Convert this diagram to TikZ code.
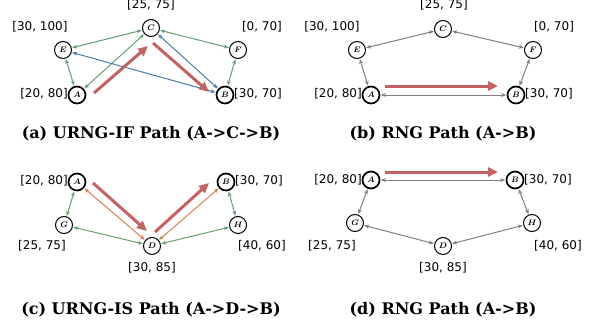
\documentclass[tikz,border=0pt]{standalone}
\usepackage{fontspec}
\usepackage{bm}
\setmainfont{DejaVu Sans}
\newfontfamily\capfont{DejaVu Serif}
\usetikzlibrary{arrows.meta}
\definecolor{cgreen}{HTML}{6A9F72}
\definecolor{cblue}{HTML}{4C7BAF}
\definecolor{corange}{HTML}{D9804F}
\definecolor{cred}{HTML}{C46262}
\definecolor{cgray}{HTML}{7F7F7F}
\tikzset{
  vtx/.style={circle,draw=black,fill=white,line width=1pt,minimum size=17pt,inner sep=0pt,font=\fontsize{8}{9}\selectfont},
  endv/.style={vtx,line width=1.7pt},
  lbl/.style={font=\fontsize{12}{14}\selectfont,inner sep=0pt},
  captxt/.style={font=\capfont\bfseries\fontsize{16}{18}\selectfont,inner sep=0pt},
  biarrow/.style={{Stealth[length=5pt,width=4pt]}-{Stealth[length=5pt,width=4pt]},line width=1pt,shorten <=0.5pt,shorten >=0.5pt},
  gline/.style={biarrow,draw=cgreen},
  bline/.style={biarrow,draw=cblue},
  oline/.style={biarrow,draw=corange},
  kline/.style={biarrow,draw=cgray},
  redpath/.style={-{Triangle[length=10pt,width=9pt]},line width=3pt,draw=cred}
}
\begin{document}
\begin{tikzpicture}[x=1pt,y=-1pt]
\useasboundingbox (0,0) rectangle (590,327);
% ---------- (a) ----------
\node[vtx]  (aC) at (151,28) {$\bm{C}$};
\node[vtx]  (aE) at (63,50)  {$\bm{E}$};
\node[vtx]  (aF) at (238,50) {$\bm{F}$};
\node[endv] (aA) at (77,95)  {$\bm{A}$};
\node[endv] (aB) at (225,95) {$\bm{B}$};
\node[lbl] (laC) at (151,5)  {[25, 75]};
\node[lbl] (laE) at (40,27)  {[30, 100]};
\node[lbl] (laF) at (262,27) {[0, 70]};
\node[lbl,anchor=east] (laA) at (68,94) {[20, 80]};
\node[lbl,anchor=west] (laB) at (234,94) {[30, 70]};
\draw[gline] (aC) -- (aE);
\draw[gline] (aC) -- (aF);
\draw[gline] (aE) -- (aA);
\draw[gline] (aF) -- (aB);
\draw[gline] (aC) -- (aA);
\draw[bline] (aE) -- (aB);
\draw[bline] (aC) -- (aB);
\coordinate (ar1s) at (94,93); \coordinate (ar1e) at (148,46);
\coordinate (ar2s) at (153,43); \coordinate (ar2e) at (209,92);
\draw[redpath] (ar1s) -- (ar1e);
\draw[redpath] (ar2s) -- (ar2e);
\node[captxt] (capa) at (151,134) {(a) URNG-IF Path (A->C->B)};
% ---------- (b) ----------
\node[vtx]  (bC) at (443,29) {$\bm{C}$};
\node[vtx]  (bE) at (357,50) {$\bm{E}$};
\node[vtx]  (bF) at (533,50) {$\bm{F}$};
\node[endv] (bA) at (371,95) {$\bm{A}$};
\node[endv] (bB) at (516,95) {$\bm{B}$};
\node[lbl] (lbC) at (444,5)  {[25, 75]};
\node[lbl] (lbE) at (332,27) {[30, 100]};
\node[lbl] (lbF) at (554,27) {[0, 70]};
\node[lbl,anchor=east] (lbA) at (362,94) {[20, 80]};
\node[lbl,anchor=west] (lbB) at (525,94) {[30, 70]};
\draw[kline] (bC) -- (bE);
\draw[kline] (bC) -- (bF);
\draw[kline] (bE) -- (bA);
\draw[kline] (bF) -- (bB);
\draw[kline] (bA) -- (bB);
\coordinate (br1s) at (385,86); \coordinate (br1e) at (498,86);
\draw[redpath] (br1s) -- (br1e);
\node[captxt] (capb) at (443,134) {(b) RNG Path (A->B)};
% ---------- (c) ----------
\node[endv] (cA) at (77,182)  {$\bm{A}$};
\node[endv] (cB) at (226,182) {$\bm{B}$};
\node[vtx]  (cG) at (64,225)  {$\bm{G}$};
\node[vtx]  (cH) at (238,225) {$\bm{H}$};
\node[vtx]  (cD) at (152,246) {$\bm{D}$};
\node[lbl,anchor=east] (lcA) at (68,181) {[20, 80]};
\node[lbl,anchor=west] (lcB) at (235,181) {[30, 70]};
\node[lbl] (lcG) at (42,246)  {[25, 75]};
\node[lbl] (lcH) at (262,246) {[40, 60]};
\node[lbl] (lcD) at (152,268) {[30, 85]};
\draw[gline] (cA) -- (cG);
\draw[gline] (cG) -- (cD);
\draw[gline] (cD) -- (cH);
\draw[gline] (cH) -- (cB);
\draw[oline] (cA) -- (cD);
\draw[oline] (cD) -- (cB);
\coordinate (cr1s) at (93,183); \coordinate (cr1e) at (147,231);
\coordinate (cr2s) at (155,232); \coordinate (cr2e) at (209,183);
\draw[redpath] (cr1s) -- (cr1e);
\draw[redpath] (cr2s) -- (cr2e);
\node[captxt] (capc) at (151,310) {(c) URNG-IS Path (A->D->B)};
% ---------- (d) ----------
\node[endv] (dA) at (371,180) {$\bm{A}$};
\node[endv] (dB) at (515,180) {$\bm{B}$};
\node[vtx]  (dG) at (355,223) {$\bm{G}$};
\node[vtx]  (dH) at (532,223) {$\bm{H}$};
\node[vtx]  (dD) at (443,246) {$\bm{D}$};
\node[lbl,anchor=east] (ldA) at (362,180) {[20, 80]};
\node[lbl,anchor=west] (ldB) at (524,180) {[30, 70]};
\node[lbl] (ldG) at (332,246) {[25, 75]};
\node[lbl] (ldH) at (558,246) {[40, 60]};
\node[lbl] (ldD) at (443,268) {[30, 85]};
\draw[kline] (dA) -- (dB);
\draw[kline] (dA) -- (dG);
\draw[kline] (dG) -- (dD);
\draw[kline] (dD) -- (dH);
\draw[kline] (dH) -- (dB);
\coordinate (dr1s) at (385,172); \coordinate (dr1e) at (498,172);
\draw[redpath] (dr1s) -- (dr1e);
\node[captxt] (capd) at (443,310) {(d) RNG Path (A->B)};
\end{tikzpicture}
\end{document}
